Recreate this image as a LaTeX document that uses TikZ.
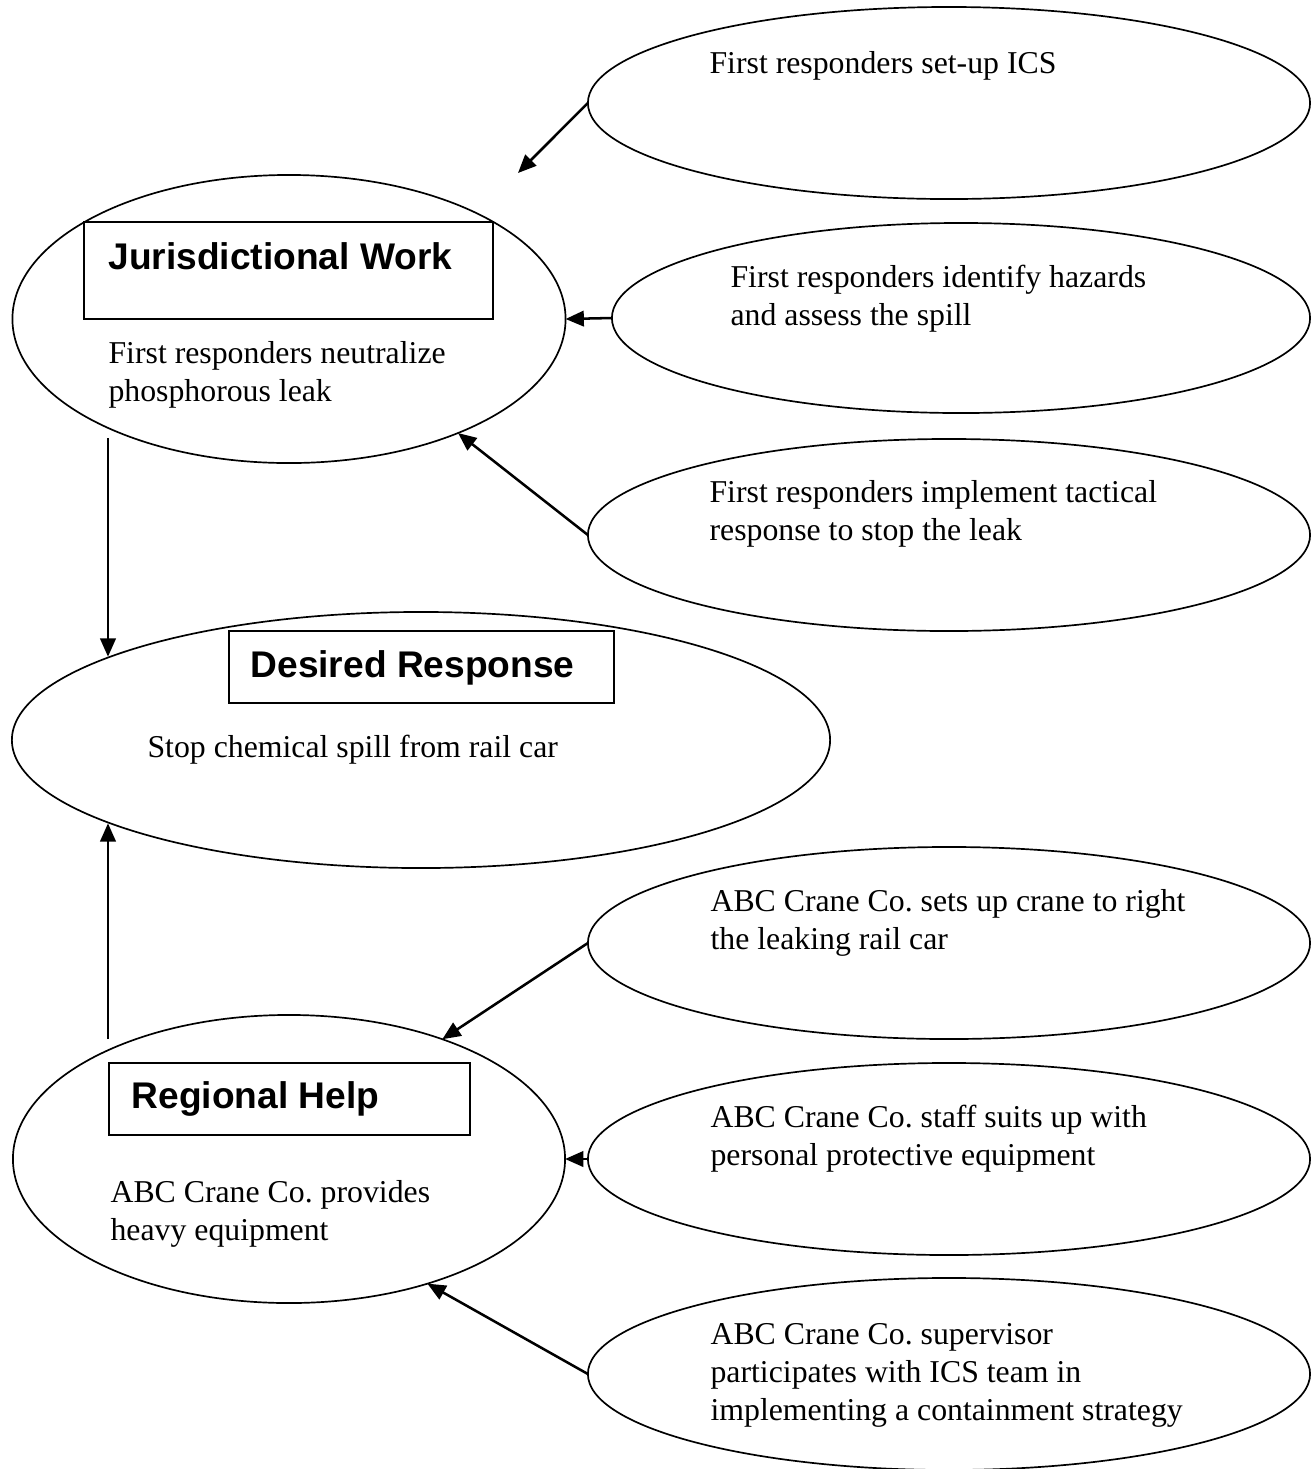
\documentclass[tikz,border=0pt]{standalone}
\usepackage{fontspec}
\setmainfont{Liberation Serif}
\newfontfamily\headfont{Liberation Sans}
\usetikzlibrary{shapes.geometric,arrows.meta,positioning}
\frenchspacing

\begin{document}
\begin{tikzpicture}[
        x=0.0125cm, y=-0.0125cm,
        oval/.style={ellipse, draw=black, line width=0.6pt, inner sep=0pt, outer sep=0pt},
        side/.style={oval, minimum width=9.025cm, minimum height=2.4cm},
        tbox/.style={rectangle, draw=black, line width=0.7pt, inner sep=0pt, outer sep=0pt, anchor=north west},
        head/.style={anchor=base west, inner sep=0pt, font=\headfont\bfseries\fontsize{13.2}{15}\selectfont},
        body/.style={anchor=base west, inner sep=0pt, align=left, font=\fontsize{11.3}{13.5}\selectfont},
        arr/.style={-{Triangle[length=6.5pt,width=5.5pt]}, line width=0.9pt, draw=black}
    ]
    \useasboundingbox (0,0) rectangle (1312,1469);

    % Jurisdictional side (text nodes sit on their last baseline)
    \node[side] (ics) at (949,103) {};
    \node[oval, minimum width=8.725cm, minimum height=2.375cm] (haz) at (961,318) {};
    \node[side] (tac) at (949,535) {};
    \node[oval, minimum width=6.9125cm, minimum height=3.6cm] (juris) at (289,319) {};
    \node[tbox, minimum width=5.1125cm, minimum height=1.2125cm] (jbox) at (84,222) {};
    \node[head] (jhead) at (108,269) {Jurisdictional Work};
    \node[body] (jtxt) at (108,401) {First responders neutralize\\phosphorous leak};
    \node[body] (icstxt) at (709,73) {First responders set-up ICS};
    \node[body] (haztxt) at (730,325) {First responders identify hazards\\and assess the spill};
    \node[body] (tactxt) at (709,540) {First responders implement tactical\\response to stop the leak};

    % Desired response
    \node[oval, minimum width=10.225cm, minimum height=3.2cm] (desired) at (421,740) {};
    \node[tbox, minimum width=4.8125cm, minimum height=0.9cm] (dbox) at (229,631) {};
    \node[head] (dhead) at (250,677) {Desired Response};
    \node[body] (dtxt) at (147,757) {Stop chemical spill from rail car};

    % Regional side
    \node[side] (crane) at (949,943) {};
    \node[side] (suit) at (949,1159) {};
    \node[side] (super) at (949,1374) {};
    \node[oval, minimum width=6.9cm, minimum height=3.6cm] (regional) at (289,1159) {};
    \node[tbox, minimum width=4.5125cm, minimum height=0.9cm] (rbox) at (109,1063) {};
    \node[head] (rhead) at (131,1108) {Regional Help};
    \node[body] (rtxt) at (110,1240) {ABC Crane Co. provides\\heavy equipment};
    \node[body] (cranetxt) at (710,949) {ABC Crane Co. sets up crane to right\\the leaking rail car};
    \node[body] (suittxt) at (710,1165) {ABC Crane Co. staff suits up with\\personal protective equipment};
    \node[body] (supertxt) at (710,1420) {ABC Crane Co. supervisor\\participates with ICS team in\\implementing a containment strategy};

    \coordinate (icstip) at (518,173);
    \coordinate (jfoot) at (108,438);
    \coordinate (rtop) at (108,1039);

    \draw[arr] (ics.west) -- (icstip);
    \draw[arr] (haz.west) -- (juris.east);
    \draw[arr] (tac.west) -- (juris.-34);
    \draw[arr] (jfoot) -- (jfoot |- desired.165);
    \draw[arr] (rtop) -- (rtop |- desired.195);
    \draw[arr] (crane.west) -- (regional.38);
    \draw[arr] (suit.west) -- (regional.east);
    \draw[arr] (super.west) -- (regional.-42);
\end{tikzpicture}
\end{document}
